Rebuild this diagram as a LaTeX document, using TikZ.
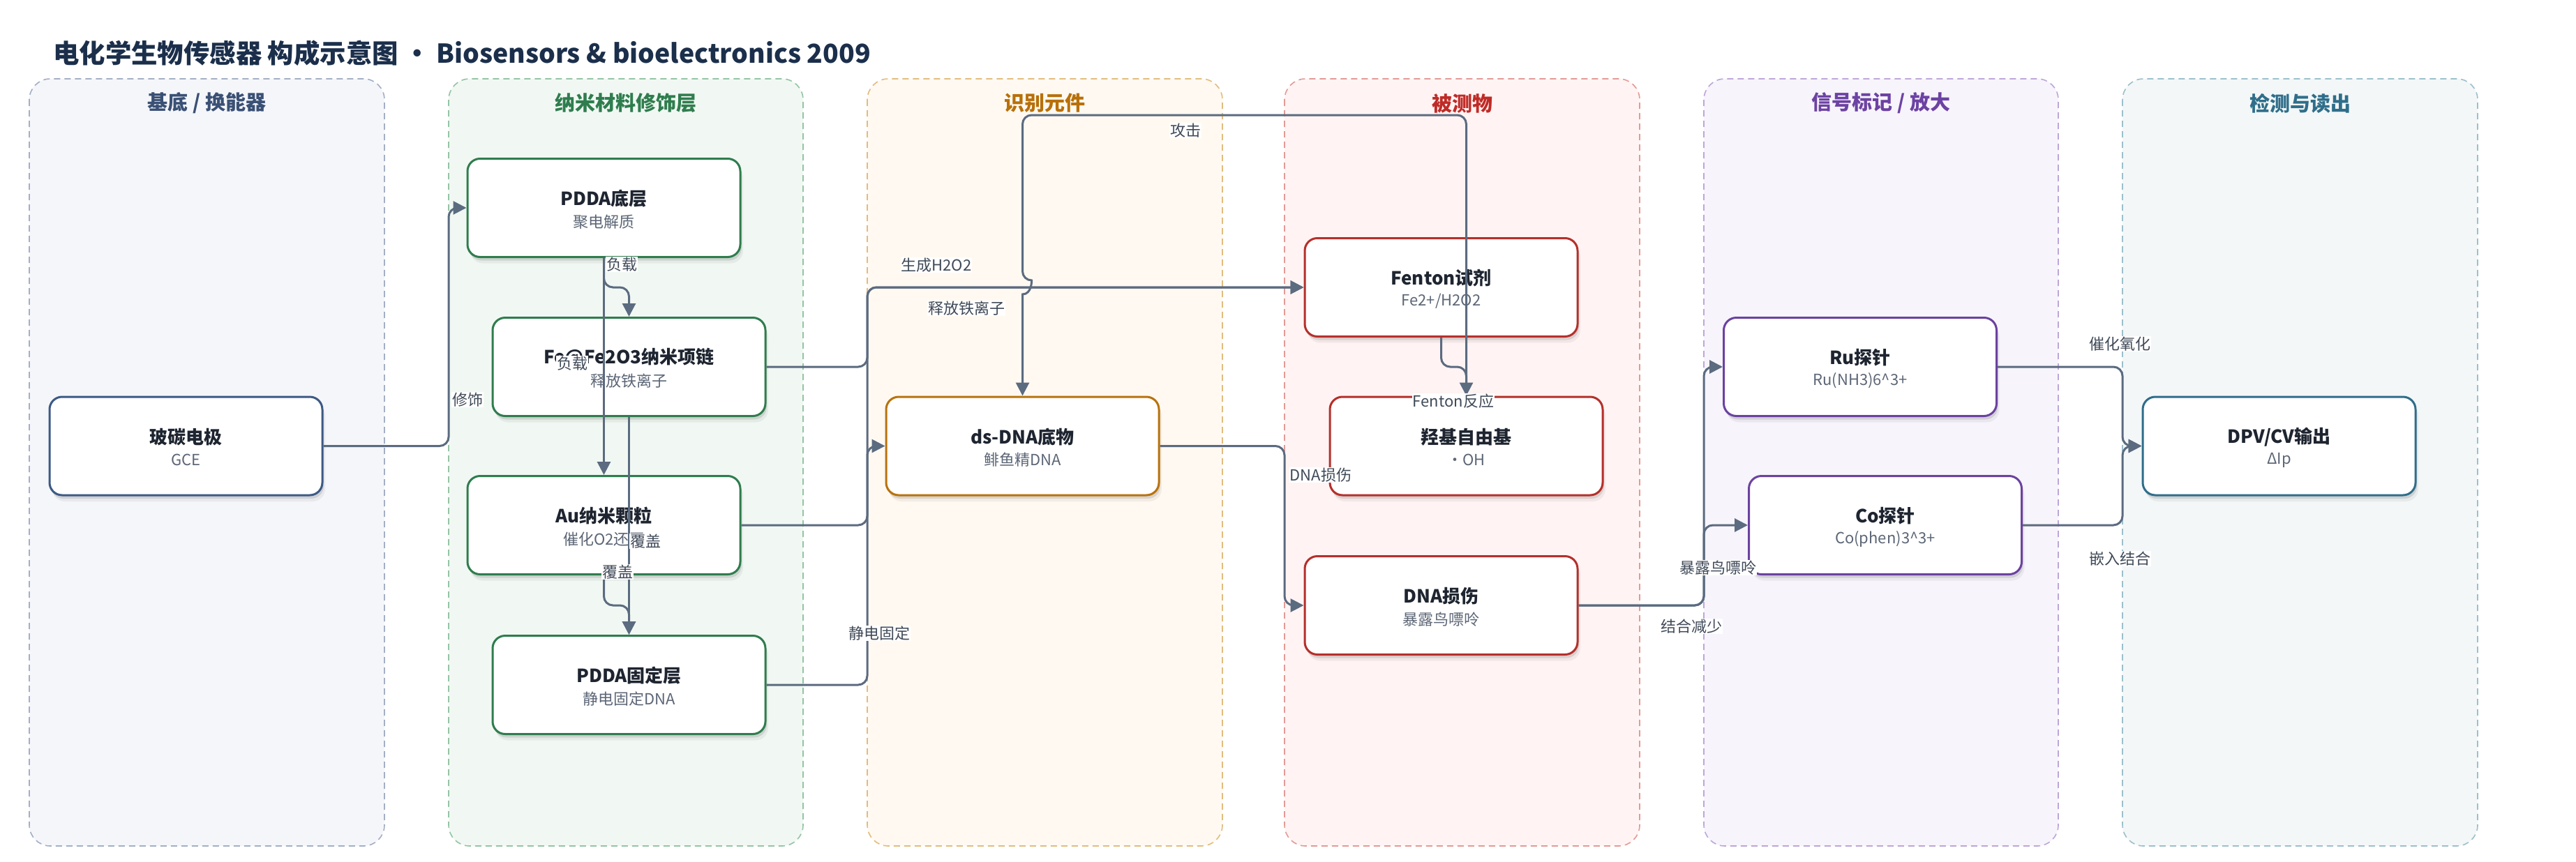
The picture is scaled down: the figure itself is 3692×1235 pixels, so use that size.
\documentclass[tikz,border=0pt]{standalone}
\usepackage{fontspec}
\setmainfont{Noto Sans CJK SC}
\usetikzlibrary{arrows.meta,shadows}

\definecolor{edgec}{HTML}{5B6B80}
\definecolor{titlec}{HTML}{1B2F4B}
\definecolor{ttlc}{HTML}{1E2530}
\definecolor{subc}{HTML}{5C6676}
\definecolor{lblc}{HTML}{404A58}
% lanes: border, fill, header, node border
\definecolor{l1d}{HTML}{A3AFC4}\definecolor{l1f}{HTML}{F5F6FA}\definecolor{l1h}{HTML}{3A5075}\definecolor{n1}{HTML}{3D5A85}
\definecolor{l2d}{HTML}{94C4A4}\definecolor{l2f}{HTML}{F1F8F3}\definecolor{l2h}{HTML}{2F7D4E}\definecolor{n2}{HTML}{2F7D4E}
\definecolor{l3d}{HTML}{E2BC7E}\definecolor{l3f}{HTML}{FFF9F1}\definecolor{l3h}{HTML}{B8700A}\definecolor{n3}{HTML}{B8730D}
\definecolor{l4d}{HTML}{E39A96}\definecolor{l4f}{HTML}{FFF4F3}\definecolor{l4h}{HTML}{BF2B27}\definecolor{n4}{HTML}{B5302B}
\definecolor{l5d}{HTML}{BDA6D9}\definecolor{l5f}{HTML}{F7F4FB}\definecolor{l5h}{HTML}{6C42A3}\definecolor{n5}{HTML}{6B42A0}
\definecolor{l6d}{HTML}{9CC0CB}\definecolor{l6f}{HTML}{F3F7F8}\definecolor{l6h}{HTML}{2F6E8A}\definecolor{n6}{HTML}{2F6E8A}

\newcommand\mklane[7]{%
  \draw[lanebox,draw=#4,fill=#5] (#1,113) rectangle (#2,1213);
  \node[lanehdr,text=#6] (#3) at ({(#1+#2)/2},148) {#7};
}
\newcommand\mkbox[6]{%
  \node[nodebox,draw=#4] (#1) at (#2,#3) {};
  \node[ttl] (#1t) at ([yshift=13pt]#1.center) {#5};
  \node[subt] (#1s) at ([yshift=-20pt]#1.center) {#6};
}

\begin{document}
\begin{tikzpicture}[x=1pt,y=-1pt,
  lanebox/.style={line width=1.6pt,dash pattern=on 9pt off 6pt,rounded corners=30pt},
  lanehdr/.style={font=\bfseries\fontsize{29pt}{34pt}\selectfont,inner sep=0pt},
  nodebox/.style={rectangle,rounded corners=18pt,line width=3pt,fill=white,
     minimum width=391pt,minimum height=141pt,inner sep=0pt,
     drop shadow={shadow xshift=2pt,shadow yshift=-5pt,opacity=.10,fill=black},
     drop shadow={shadow xshift=4pt,shadow yshift=-9pt,opacity=.05,fill=black}},
  ttl/.style={font=\bfseries\fontsize{26pt}{31pt}\selectfont,text=ttlc,inner sep=0pt},
  subt/.style={font=\fontsize{22pt}{26pt}\selectfont,text=subc,inner sep=0pt},
  edge/.style={draw=edgec,line width=3pt,rounded corners=13pt,-{Triangle[length=19pt,width=19pt]}},
  lbl/.style={font=\fontsize{22pt}{26pt}\selectfont,text=lblc,fill=white,inner xsep=1pt,inner ysep=0.5pt}
]
\useasboundingbox[fill=white] (0,0) rectangle (3692,1235);

\node[anchor=west,font=\bfseries\fontsize{37.4pt}{44pt}\selectfont,text=titlec,inner sep=0pt] (title) at (76,76)
  {电化学生物传感器 构成示意图 · Biosensors \& bioelectronics 2009};

\mklane{42}{551}{h1}{l1d}{l1f}{l1h}{基底 / 换能器}
\mklane{643}{1151}{h2}{l2d}{l2f}{l2h}{纳米材料修饰层}
\mklane{1243}{1752}{h3}{l3d}{l3f}{l3h}{识别元件}
\mklane{1841}{2350}{h4}{l4d}{l4f}{l4h}{被测物}
\mklane{2442}{2950}{h5}{l5d}{l5f}{l5h}{信号标记 / 放大}
\mklane{3042}{3551}{h6}{l6d}{l6f}{l6h}{检测与读出}

\mkbox{gce}{266.5}{639.5}{n1}{玻碳电极}{GCE}
\mkbox{pddab}{865.5}{298}{n2}{PDDA底层}{聚电解质}
\mkbox{fe}{901.5}{526}{n2}{Fe@Fe2O3纳米项链}{释放铁离子}
\mkbox{au}{865.5}{753}{n2}{Au纳米颗粒}{催化O2还原}
\mkbox{pddag}{901.5}{982}{n2}{PDDA固定层}{静电固定DNA}
\mkbox{dsdna}{1465.5}{639.5}{n3}{ds-DNA底物}{鲱鱼精DNA}
\mkbox{fenton}{2065.5}{412}{n4}{Fenton试剂}{Fe2+/H2O2}
\mkbox{oh}{2101.5}{639.5}{n4}{羟基自由基}{·OH}
\mkbox{dmg}{2065.5}{868}{n4}{DNA损伤}{暴露鸟嘌呤}
\mkbox{ru}{2666}{526}{n5}{Ru探针}{Ru(NH3)6\textasciicircum 3+}
\mkbox{co}{2702}{753}{n5}{Co探针}{Co(phen)3\textasciicircum 3+}
\mkbox{dpv}{3266.5}{639.5}{n6}{DPV/CV输出}{ΔIp}

% connectors
\draw[edge] (gce.east) -- (643,639.5) |- (pddab.west);
\draw[edge] (pddab.south) -- (865.5,412) -| (fe.north);
\draw[edge] (pddab.south) -- (au.north);
\draw[edge] (fe.south) -- (pddag.north);
\draw[edge] (au.south) -- (865.5,868) -| (pddag.north);
\draw[edge] (fe.east) -- (1243,526) |- (fenton.west);
\draw[edge] (au.east) -- (1243,753) |- (fenton.west);
\draw[edge] (pddag.east) -- (1243,982) |- (dsdna.west);
\draw[edge] (oh.north) -- (2101.5,165) -- (1465.5,165) -- (1465.5,402)
   [sharp corners] .. controls (1478.8,402) and (1478.8,422) .. (1465.5,422) -- (dsdna.north);
\draw[edge] (fenton.south) -- (2065.5,526) -| (oh.north);
\draw[edge] (dsdna.east) -- (1841,639.5) |- (dmg.west);
\draw[edge] (dmg.east) -- (2442,868) |- (ru.west);
\draw[edge] (dmg.east) -- (2442,868) |- (co.west);
\draw[edge] (ru.east) -- (3042,526) |- (dpv.west);
\draw[edge] (co.east) -- (3042,753) |- (dpv.west);

% connector labels
\node[lbl] (L1) at (670,573) {修饰};
\node[lbl] (L2) at (891,379) {负载};
\node[lbl] (L3) at (820,521) {负载};
\node[lbl] (L4) at (925,776) {覆盖};
\node[lbl] (L5) at (885,820) {覆盖};
\node[lbl] (L6) at (1342,380) {生成H2O2};
\node[lbl] (L7) at (1385,442) {释放铁离子};
\node[lbl] (L8) at (1260,908) {静电固定};
\node[lbl] (L9) at (1699,187) {攻击};
\node[lbl] (L10) at (2083,575) {Fenton反应};
\node[lbl] (L11) at (1893,681) {DNA损伤};
\node[lbl] (L12) at (2462,814) {暴露鸟嘌呤};
\node[lbl] (L13) at (2424,898) {结合减少};
\node[lbl] (L14) at (3038,493) {催化氧化};
\node[lbl] (L15) at (3038,801) {嵌入结合};
\end{tikzpicture}
\end{document}
